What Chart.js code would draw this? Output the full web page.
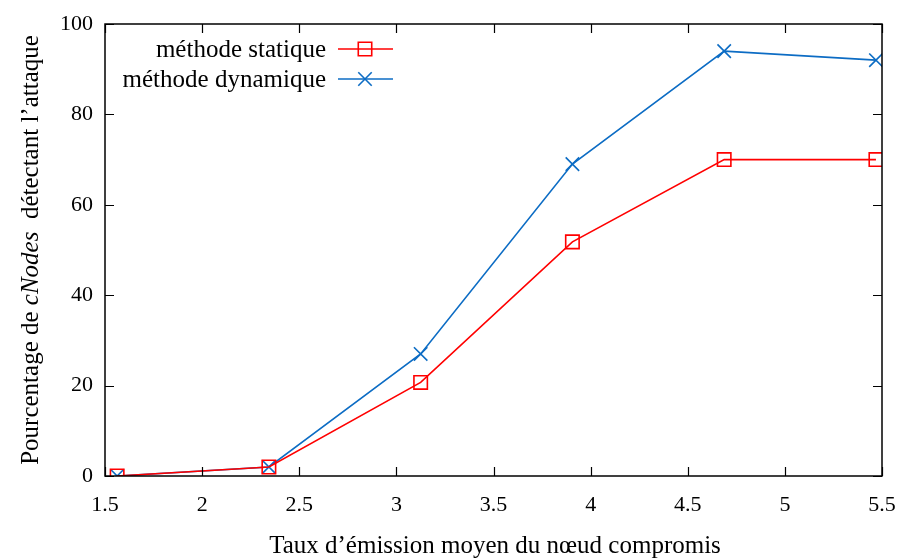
<!DOCTYPE html>
<html>
<head>
<meta charset="utf-8">
<script src="https://cdn.jsdelivr.net/npm/chart.js@4"></script>
<style>
  html, body { margin: 0; padding: 0; background: #fff; }
  #wrap { width: 901px; height: 559px; }
</style>
</head>
<body>
<div id="wrap"><canvas id="chart" width="901" height="559"></canvas></div>
<script>
// data
const tauxEmission = [1.5625, 2.34375, 3.125, 3.90625, 4.6875, 5.46875];
const methodeStatique = [0, 2, 20.7, 51.8, 70, 70];
const methodeDynamique = [0, 2, 27, 69, 94, 92];
const xTicks = [1.5, 2, 2.5, 3, 3.5, 4, 4.5, 5, 5.5];
const yTicks = [0, 20, 40, 60, 80, 100];

const FONT = '"Liberation Serif", "Times New Roman", serif';
const RED = '#ff0000';
const BLUE = '#0c6cc4';

function points(ys) {
  return ys.map((v, i) => ({ x: tauxEmission[i], y: v }));
}

// frame + gnuplot style inward ticks on all four sides
const framePlugin = {
  id: 'frame',
  afterDatasetsDraw(chart) {
    const { ctx, chartArea: a, scales } = chart;
    ctx.save();
    ctx.strokeStyle = '#000';
    ctx.lineWidth = 1.5;
    ctx.strokeRect(a.left, a.top, a.right - a.left, a.bottom - a.top);
    ctx.lineWidth = 1.2;
    ctx.beginPath();
    xTicks.forEach(v => {
      const px = Math.round(scales.x.getPixelForValue(v)) + 0.5;
      ctx.moveTo(px, a.bottom); ctx.lineTo(px, a.bottom - 9);
      ctx.moveTo(px, a.top); ctx.lineTo(px, a.top + 9);
    });
    yTicks.forEach(v => {
      const py = Math.round(scales.y.getPixelForValue(v)) + 0.5;
      ctx.moveTo(a.left, py); ctx.lineTo(a.left + 9, py);
      ctx.moveTo(a.right, py); ctx.lineTo(a.right - 9, py);
    });
    ctx.stroke();
    ctx.restore();
  }
};

// legend like gnuplot: text right aligned, then sample line with marker
const legendPlugin = {
  id: 'keyBox',
  afterDraw(chart) {
    const { ctx } = chart;
    ctx.save();
    ctx.font = '25px ' + FONT;
    ctx.textAlign = 'right';
    ctx.textBaseline = 'middle';
    chart.data.datasets.forEach((ds, i) => {
      const y = 49 + i * 30;
      ctx.fillStyle = '#000';
      ctx.fillText(ds.label, 326, y + 1);
      ctx.strokeStyle = ds.borderColor;
      ctx.lineWidth = ds.borderWidth;
      ctx.beginPath();
      ctx.moveTo(338, y); ctx.lineTo(393, y);
      ctx.stroke();
      ctx.lineWidth = ds.pointBorderWidth;
      ctx.fillStyle = 'rgba(0,0,0,0)';
      Chart.helpers.drawPoint(ctx, {
        pointStyle: ds.pointStyle, radius: ds.pointRadius, borderWidth: ds.pointBorderWidth
      }, 365, y);
    });
    ctx.restore();
  }
};

// axis titles (y title has an italic part)
const titlesPlugin = {
  id: 'titles',
  afterDraw(chart) {
    const { ctx } = chart;
    ctx.save();
    ctx.fillStyle = '#000';
    ctx.textBaseline = 'alphabetic';
    ctx.font = '25px ' + FONT;
    ctx.textAlign = 'center';
    ctx.fillText('Taux d\u2019\u00e9mission moyen du n\u0153ud compromis', 495, 553);

    const parts = [
      ['Pourcentage de ', '25px ' + FONT],
      ['cNodes', 'italic 25px ' + FONT],
      ['  d\u00e9tectant l\u2019attaque', '25px ' + FONT]
    ];
    let total = 0;
    parts.forEach(p => { ctx.font = p[1]; total += ctx.measureText(p[0]).width; });
    ctx.translate(30, 250);
    ctx.rotate(-Math.PI / 2);
    ctx.textAlign = 'left';
    let x = -total / 2;
    parts.forEach(p => {
      ctx.font = p[1];
      ctx.fillText(p[0], x, 8);
      x += ctx.measureText(p[0]).width;
    });
    ctx.restore();
  }
};

new Chart(document.getElementById('chart'), {
  type: 'line',
  data: {
    datasets: [
      {
        label: 'm\u00e9thode statique',
        data: points(methodeStatique),
        borderColor: RED,
        backgroundColor: 'rgba(0,0,0,0)',
        borderWidth: 1.6,
        pointStyle: 'rect',
        pointRadius: 9.5,
        pointBorderWidth: 1.6,
        pointBorderColor: RED,
        pointBackgroundColor: 'rgba(0,0,0,0)',
        tension: 0
      },
      {
        label: 'm\u00e9thode dynamique',
        data: points(methodeDynamique),
        borderColor: BLUE,
        backgroundColor: 'rgba(0,0,0,0)',
        borderWidth: 1.6,
        pointStyle: 'crossRot',
        pointRadius: 9.5,
        pointBorderWidth: 1.6,
        pointBorderColor: BLUE,
        tension: 0
      }
    ]
  },
  options: {
    responsive: false,
    animation: false,
    layout: { padding: { top: 24, right: 19, left: 0, bottom: 0 } },
    plugins: { legend: { display: false }, tooltip: { enabled: false } },
    scales: {
      x: {
        type: 'linear',
        min: 1.5,
        max: 5.5,
        afterBuildTicks: s => { s.ticks = xTicks.map(v => ({ value: v })); },
        afterFit: s => { s.height = 83; s.paddingLeft = 0; s.paddingRight = 0; },
        grid: { display: false, drawTicks: false },
        border: { display: false },
        ticks: {
          padding: 16,
          color: '#000',
          font: { family: FONT, size: 22 },
          maxRotation: 0,
          callback: v => String(v)
        }
      },
      y: {
        min: 0,
        max: 100,
        afterBuildTicks: s => { s.ticks = yTicks.map(v => ({ value: v })); },
        afterFit: s => { s.width = 105; s.paddingTop = 0; s.paddingBottom = 0; },
        grid: { display: false, drawTicks: false },
        border: { display: false },
        ticks: {
          padding: 12,
          color: '#000',
          font: { family: FONT, size: 22 },
          callback: v => String(v)
        }
      }
    }
  },
  plugins: [framePlugin, legendPlugin, titlesPlugin]
});
</script>
</body>
</html>
